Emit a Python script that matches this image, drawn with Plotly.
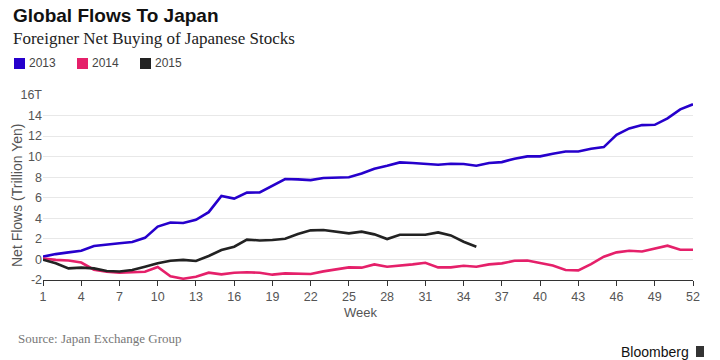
import plotly.graph_objects as go

weeks = list(range(1, 53))
flows_2013 = [0.27, 0.52, 0.69, 0.85, 1.3, 1.4, 1.57, 1.7, 2.1, 3.2,
              3.6, 3.55, 3.85, 4.6, 6.17, 5.92, 6.5, 6.52, 7.14, 7.82,
              7.79, 7.72, 7.92, 7.95, 8.0, 8.37, 8.83, 9.12, 9.44, 9.38,
              9.31, 9.21, 9.31, 9.28, 9.12, 9.38, 9.47, 9.8, 10.03, 10.03,
              10.29, 10.51, 10.51, 10.77, 10.93, 12.13, 12.75, 13.07, 13.1, 13.72,
              14.6, 15.1]
flows_2014 = [0.1, -0.04, -0.1, -0.3, -1.0, -1.2, -1.29, -1.25, -1.2, -0.73,
              -1.65, -1.88, -1.68, -1.29, -1.45, -1.29, -1.25, -1.29, -1.48, -1.36,
              -1.42, -1.42, -1.16, -1.0, -0.77, -0.8, -0.48, -0.71, -0.61, -0.48,
              -0.32, -0.77, -0.77, -0.61, -0.71, -0.48, -0.38, -0.13, -0.1, -0.35,
              -0.58, -1.03, -1.06, -0.45, 0.27, 0.69, 0.85, 0.78, 1.08, 1.34,
              0.95, 0.95]
flows_2015 = [-0.03, -0.38, -0.87, -0.8, -0.87, -1.12, -1.17, -1.02, -0.71, -0.38,
              -0.13, -0.04, -0.15, 0.33, 0.91, 1.24, 1.93, 1.85, 1.89, 2.01,
              2.47, 2.83, 2.86, 2.73, 2.54, 2.7, 2.44, 1.98, 2.41, 2.41,
              2.41, 2.63, 2.34, 1.72, 1.24]

series_names = ["2013", "2014", "2015"]
series_colors = ["#2600CC", "#E5206A", "#222222"]

x_tick_vals = list(range(1, 53, 3))
y_tick_vals = [-2, 0, 2, 4, 6, 8, 10, 12, 14, 16]
y_tick_text = ["-2", "0", "2", "4", "6", "8", "10", "12", "14", "16T"]

# the page body has an 8px margin, so the figure is drawn 8px in from the top-left
OFF = 8
W, H = 720 - OFF, 360 - OFF
PLOT_L, PLOT_R, PLOT_T, PLOT_B = 43, 693, 95, 280   # page pixels of the plot area
L, T = PLOT_L - OFF, PLOT_T - OFF
R, B = 720 - PLOT_R, 360 - PLOT_B
PW, PH = PLOT_R - PLOT_L, PLOT_B - PLOT_T


def px(x):
    return (x - PLOT_L) / PW


def py(y):
    return (PLOT_B - y) / PH


TICKFONT = "Liberation Sans, Arial, sans-serif"

fig = go.Figure()
for name, vals, col in zip(series_names, [flows_2013, flows_2014, flows_2015], series_colors):
    fig.add_trace(go.Scatter(
        x=weeks[:len(vals)], y=vals, mode="lines", name=name,
        line=dict(color=col, width=2.6), showlegend=False, hoverinfo="skip"))

fig.update_layout(
    width=W, height=H,
    margin=dict(l=L, r=R, t=T, b=B, autoexpand=False),
    paper_bgcolor="white", plot_bgcolor="white",
    xaxis=dict(range=[1, 52], tickvals=x_tick_vals, ticks="outside", ticklen=5,
               tickcolor="#333", showgrid=False, zeroline=False,
               showline=True, linecolor="#333", linewidth=1,
               tickfont=dict(family=TICKFONT, size=12.5, color="#555")),
    yaxis=dict(range=[-2, 16], tickvals=y_tick_vals, ticktext=y_tick_text,
               showgrid=True, gridcolor="#e8e8e8", gridwidth=1, zeroline=False,
               ticks="", showline=False,
               tickfont=dict(family=TICKFONT, size=12.5, color="#555")),
)

annotations = [
    dict(text="<b>Global Flows To Japan</b>", x=px(11), y=py(15), xanchor="left", yanchor="middle",
         font=dict(family="Liberation Sans, Arial, sans-serif", size=19, color="#111")),
    dict(text="Foreigner Net Buying of Japanese Stocks", x=px(11), y=py(38), xanchor="left", yanchor="middle",
         font=dict(family="Liberation Serif, DejaVu Serif, serif", size=17, color="#222")),
    dict(text="Net Flows (Trillion Yen)", x=px(17), y=py(196), xanchor="center", yanchor="middle",
         textangle=-90, font=dict(family=TICKFONT, size=14, color="#555")),
    dict(text="Week", x=px(360), y=py(312), xanchor="center", yanchor="middle",
         font=dict(family=TICKFONT, size=13, color="#555")),
    dict(text="Source: Japan Exchange Group", x=px(16), y=py(338), xanchor="left", yanchor="middle",
         font=dict(family="Liberation Serif, DejaVu Serif, serif", size=13, color="#777")),
    dict(text="Bloomberg", x=px(691), y=py(352), xanchor="right", yanchor="middle",
         font=dict(family="Liberation Sans Narrow, Liberation Sans, Arial", size=14, color="#111")),
]

legend_x = [14, 77, 140]
shapes = []
for name, col, lx in zip(series_names, series_colors, legend_x):
    shapes.append(dict(type="rect", xref="paper", yref="paper",
                       x0=px(lx), x1=px(lx + 11), y0=py(69), y1=py(58),
                       fillcolor=col, line=dict(width=0)))
    annotations.append(dict(text=name, x=px(lx + 13), y=py(63.5), xanchor="left", yanchor="middle",
                            font=dict(family=TICKFONT, size=12, color="#444")))

# Bloomberg icon
shapes.append(dict(type="rect", xref="paper", yref="paper",
                   x0=px(696), x1=px(704), y0=py(357), y1=py(346),
                   fillcolor="#333", line=dict(width=0)))

for a in annotations:
    a.setdefault("xref", "paper")
    a.setdefault("yref", "paper")
    a.setdefault("showarrow", False)

fig.update_layout(annotations=annotations, shapes=shapes)
fig.write_html("out.html")
